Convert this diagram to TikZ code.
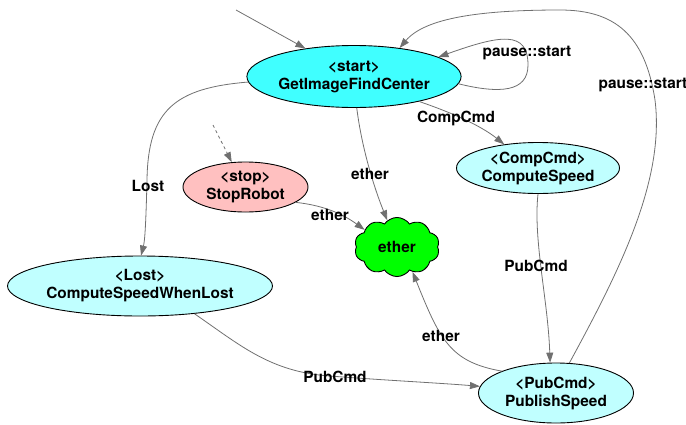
\documentclass[tikz,border=0pt]{standalone}
\usepackage{fontspec}
\setmainfont{TeX Gyre Heros}
\usetikzlibrary{shapes.geometric,shapes.symbols,arrows.meta}
\definecolor{startc}{HTML}{40FFFF}
\definecolor{lightc}{HTML}{C0FFFF}
\definecolor{pinkc}{HTML}{FFC0C0}
\definecolor{greenc}{HTML}{00FF00}
\definecolor{edgec}{HTML}{707070}
\tikzset{
  state/.style={ellipse, draw=black, line width=0.9pt, inner sep=0pt, align=center,
    font=\fontsize{15.4}{18}\selectfont\bfseries},
  cloudnode/.style={cloud, cloud puffs=10, cloud puff arc=110, draw=black, line width=0.9pt,
    fill=greenc, inner sep=0pt, font=\fontsize{15.4}{18}\selectfont\bfseries},
  edge/.style={draw=edgec, line width=0.8pt, -{Triangle[length=10pt,width=7pt]}},
  lbl/.style={font=\fontsize{15.4}{18}\selectfont\bfseries, inner sep=1pt}
}
\begin{document}
\begin{tikzpicture}[x=1pt,y=-1pt]
\useasboundingbox (0,0) rectangle (686,424);
\node[state, fill=startc, minimum width=211, minimum height=62] (start) at (354,76.5) {<start>\\GetImageFindCenter};
\node[state, fill=pinkc, minimum width=125, minimum height=50] (stop) at (245.5,187) {<stop>\\StopRobot};
\node[cloudnode, minimum width=85, minimum height=53] (ether) at (397,247) {ether};
\node[state, fill=lightc, minimum width=254, minimum height=60] (lost) at (140,286) {<Lost>\\ComputeSpeedWhenLost};
\node[state, fill=lightc, minimum width=163, minimum height=51] (comp) at (538,168) {<CompCmd>\\ComputeSpeed};
\node[state, fill=lightc, minimum width=155, minimum height=60] (pub) at (556,393) {<PubCmd>\\PublishSpeed};
\coordinate (in0) at (236,10);
\coordinate (in1) at (213,125);

\draw[edge] (in0) -- (start.150);
\draw[edge, dashed] (in1) -- (stop.119);
\draw[edge] (start.-4) .. controls (500,94) and (528,92) .. (528,65)
  .. controls (528,30) and (500,35) .. (start.13)
  node[lbl, at={(527,53)}] {pause::start};
\draw[edge] (pub.66) .. controls (620,270) and (665,180) .. (655,100)
  .. controls (645,35) and (615,10) .. (560,10)
  .. controls (480,10) and (425,18) .. (start.32)
  node[lbl, at={(643,85)}] {pause::start};
\draw[edge] (start.183) .. controls (175,88) and (148,110) .. (147,180)
  .. controls (146,220) and (145,240) .. (lost.88)
  node[lbl, at={(148,186)}] {Lost};
\draw[edge] (start.-85) .. controls (362,150) and (375,190) .. (ether.110)
  node[lbl, at={(370,174)}] {ether};
\draw[edge] (start.-21) .. controls (450,112) and (480,125) .. (comp.145)
  node[lbl, at={(456,118)}] {CompCmd};
\draw[edge] (stop.-17) .. controls (320,205) and (340,212) .. (ether.152)
  node[lbl, at={(330,215)}] {ether};
\draw[edge] (comp.-90) .. controls (533,240) and (548,300) .. (pub.101)
  node[lbl, at={(536,266)}] {PubCmd};
\draw[edge] (lost.-27) .. controls (240,345) and (270,372) .. (330,376)
  .. controls (380,380) and (440,383) .. (pub.175)
  node[lbl, at={(335,377)}] {PubCmd};
\draw[edge] (pub.158) .. controls (450,362) and (440,340) .. (ether.-58)
  node[lbl, at={(441,336)}] {ether};
\end{tikzpicture}
\end{document}
